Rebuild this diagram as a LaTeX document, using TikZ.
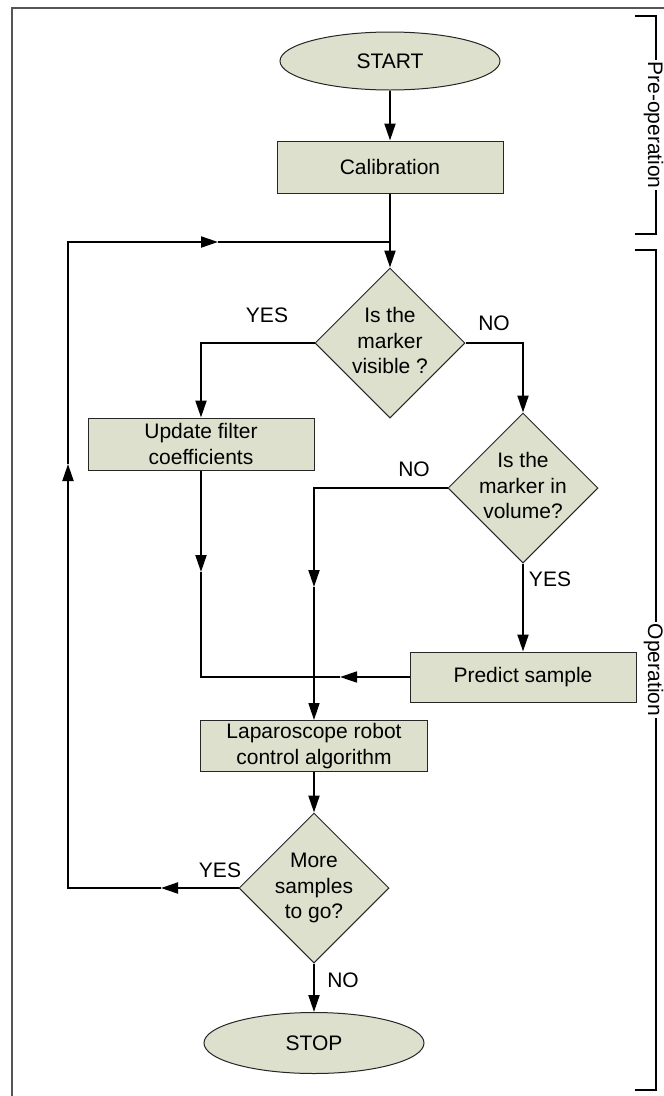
\documentclass[tikz,border=0pt]{standalone}
\usepackage{fontspec}
\setmainfont{Liberation Sans}
\usetikzlibrary{shapes.geometric,arrows.meta}
\definecolor{boxfill}{RGB}{221,224,204}
\definecolor{framegray}{RGB}{85,85,85}
\newcommand{\dtext}[1]{\makebox[0pt]{\begin{tabular}{@{}c@{}}#1\end{tabular}}}
\begin{document}
\begin{tikzpicture}[x=1pt,y=-1pt,
  font=\fontsize{21}{25.5}\selectfont,
  >={Triangle[length=17pt,width=11pt]},
  shapebase/.style={draw=black!85,line width=1pt,fill=boxfill,inner sep=0pt,align=center},
  procbox/.style={shapebase,minimum width=226pt,minimum height=52pt},
  termin/.style={shapebase,ellipse,minimum width=220pt,minimum height=58pt},
  decis/.style={shapebase,diamond,minimum width=150pt,minimum height=150pt},
  conn/.style={line width=2pt,draw=black},
  connthin/.style={line width=1.5pt,draw=black},
  lbl/.style={inner sep=0pt},
  brk/.style={line width=2.5pt,draw=black},
  brktext/.style={rotate=-90,fill=white,inner sep=1.5pt}]
\useasboundingbox (0,0) rectangle (664,1096);
\fill[white] (0,0) rectangle (664,1096);
% outer frame
\draw[framegray,line width=1.3pt] (12,1100) -- (12,8) -- (670,8);
% brackets
\draw[brk] (635,16) -- (656,16) -- (656,234) -- (635,234);
\draw[brk] (635,250) -- (656,250) -- (656,1090) -- (635,1090);
\node[brktext] (preop) at (653.5,125) {Pre-operation};
\node[brktext] (op) at (653.5,670) {Operation};
% nodes
\node[termin] (start) at (390,61) {START};
\node[procbox] (cal) at (390,167) {Calibration};
\node[decis] (d1) at (390,343) {\dtext{Is the\\marker\\visible ?}};
\node[procbox] (upd) at (201,444) {Update filter\\coefficients};
\node[decis] (d2) at (523,488) {\dtext{Is the\\marker in\\volume?}};
\node[procbox,minimum height=50pt] (pred) at (523,677) {Predict sample};
\node[procbox,minimum width=227pt,minimum height=51pt] (lap) at (314,746) {Laparoscope robot\\control algorithm};
\node[decis] (d3) at (314,888) {\dtext{More\\samples\\to go?}};
\node[termin,minimum height=61pt] (stop) at (314,1043) {STOP};
% helper coordinates
\coordinate (join) at (390,242);
\coordinate (ua) at (201,572);
\coordinate (pa) at (340,677);
\coordinate (na) at (314,587);
\coordinate (la1) at (161,888);
\coordinate (la2) at (68,464);
\coordinate (la3) at (218,242);
% connectors
\draw[conn,->] (start) -- (cal);
\draw[conn,->] (cal) -- (d1);
\draw[conn,->] (d1.west) -| (upd.north);
\draw[conn,->] (d1.east) -| (d2.north);
\draw[conn,->] (d2.south) -- (pred.north);
\draw[conn,->] (upd.south) -- (ua);
\draw[connthin,->] (pred.west) -- (pa);
\draw[connthin] (pa) -- (201,677) -- (ua);
\draw[conn,->] (d2.west) -| (na);
\draw[connthin,->] (na) -- (lap.north);
\draw[conn,->] (lap.south) -- (d3.north);
\draw[conn,->] (d3.south) -- (stop.north);
\draw[conn,->] (d3.west) -- (la1);
\draw[conn,->] (la1) -- (68,888) -- (la2);
\draw[conn,->] (la2) -- (68,242) -- (la3);
\draw[conn] (la3) -- (join);
% labels
\node[lbl] (l1) at (267,315) {YES};
\node[lbl] (l2) at (494,323) {NO};
\node[lbl] (l3) at (414,469) {NO};
\node[lbl] (l4) at (550,579) {YES};
\node[lbl] (l5) at (220,870) {YES};
\node[lbl] (l6) at (343,980) {NO};
\end{tikzpicture}
\end{document}
